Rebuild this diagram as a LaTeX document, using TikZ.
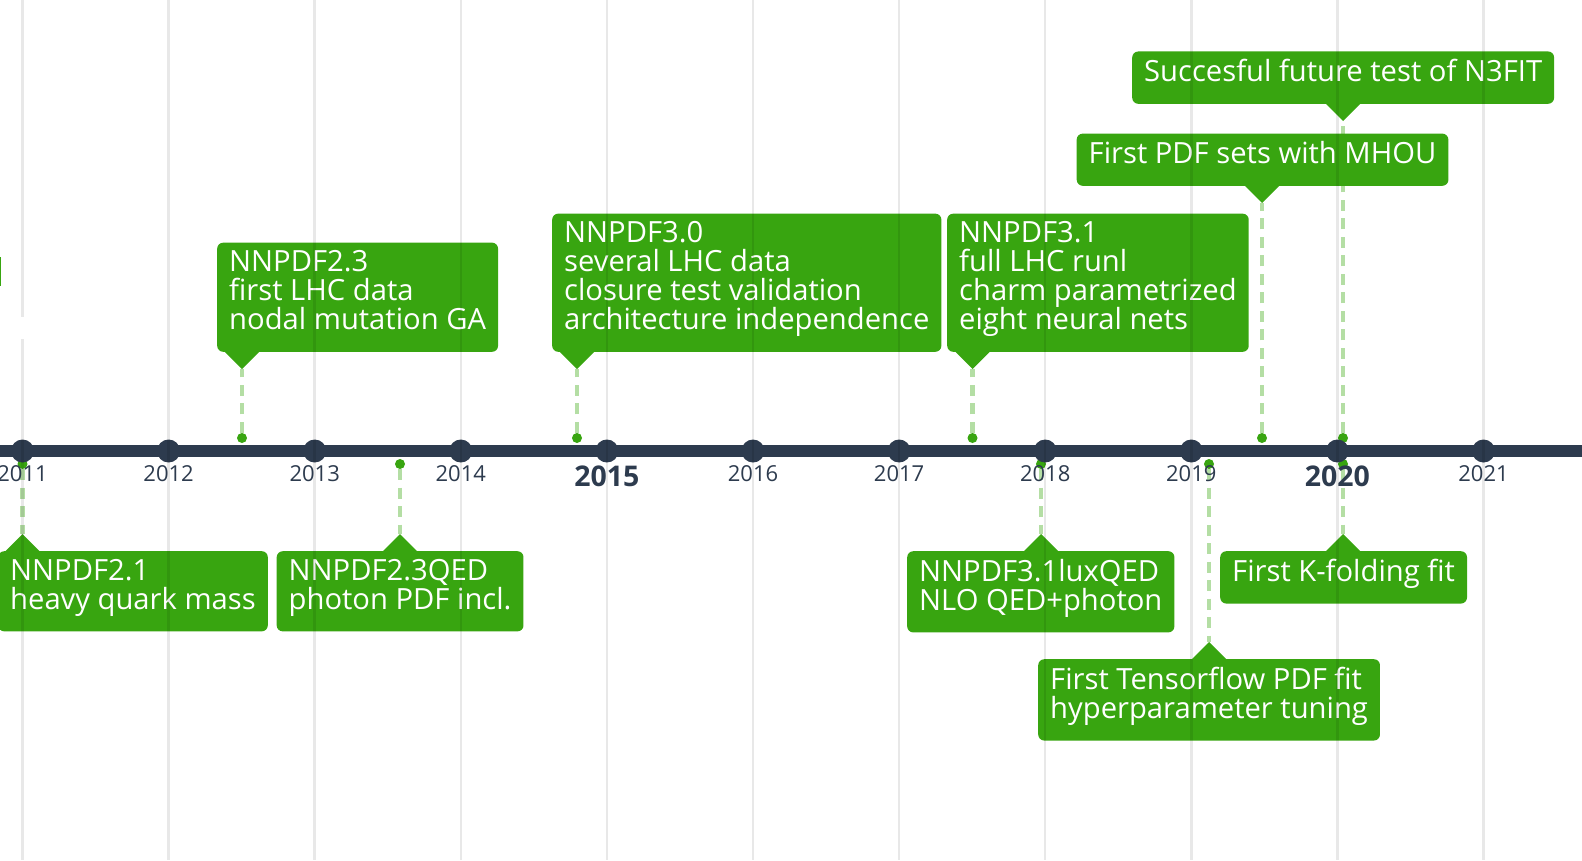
\documentclass[tikz,border=0pt]{standalone}
\usepackage{fontspec}
\setmainfont{Open Sans}
\usetikzlibrary{positioning,calc}
\definecolor{tlgreen}{HTML}{38A510}
\definecolor{tlpale}{HTML}{B4DEA4}
\definecolor{tlaxis}{HTML}{2D3B4E}
\newcommand\topstrut{\lineskiplimit -10pt\relax\rule[-7pt]{0pt}{29pt}}
\newcommand\botstrut{\rule[-14pt]{0pt}{14pt}}
\tikzset{
  callout/.style={fill=tlgreen, text=white, rounded corners=6pt, align=left, inner xsep=12pt, inner ysep=8pt,
    font=\fontsize{29.2}{29}\selectfont, execute at begin node=\topstrut, execute at end node=\botstrut},
  pointer/.style={fill=tlgreen},
  evdot/.style={circle, fill=tlgreen, inner sep=0pt, minimum size=10pt},
  yeardot/.style={circle, fill=tlaxis, inner sep=0pt, minimum size=23pt},
  yearlbl/.style={text=tlaxis, font=\fontsize{22}{24}\selectfont, anchor=base},
  yearbig/.style={text=tlaxis, font=\bfseries\fontsize{28.5}{30}\selectfont, anchor=base},
  leader/.style={draw=tlpale, line width=4.5pt, dash pattern=on 11pt off 7.5pt},
  gridln/.style={draw=black, draw opacity=0.09, line width=2.5pt}
}

\begin{document}
\begin{tikzpicture}[x=1pt, y=-1pt]
  \useasboundingbox (0,0) rectangle (1582,860);

  % event markers and leaders
  \coordinate (n21-tip) at (22.5,534);       \node[evdot] (n21-dot) at (22.5,464) {};
  \coordinate (n23-tip) at (242,369);        \node[evdot] (n23-dot) at (242,438) {};
  \coordinate (n23qed-tip) at (400,534);     \node[evdot] (n23qed-dot) at (400,464) {};
  \coordinate (n30-tip) at (577,369);        \node[evdot] (n30-dot) at (577,438) {};
  \coordinate (n31-tip) at (972.5,369);      \node[evdot] (n31-dot) at (972.5,438) {};
  \coordinate (n31lux-tip) at (1041,534);    \node[evdot] (n31lux-dot) at (1041,464) {};
  \coordinate (tflow-tip) at (1209,642);     \node[evdot] (tflow-dot) at (1209,464) {};
  \coordinate (mhou-tip) at (1262,203);      \node[evdot] (mhou-dot) at (1262,438) {};
  \coordinate (future-tip) at (1343,121);    \node[evdot] (future-dot) at (1343,438) {};
  \coordinate (kfold-tip) at (1343,534);     \node[evdot] (kfold-dot) at (1343,464) {};

  \foreach \ev in {n21,n23,n23qed,n30,n31,n31lux,tflow,mhou,future,kfold}
    \draw[leader] (\ev-dot) -- (\ev-tip);

  % callouts above the axis
  \node[callout, anchor=south west] (n23) at (217,352) {NNPDF2.3\\first LHC data\\nodal mutation GA};
  \node[callout, anchor=south west] (n30) at (552,352) {NNPDF3.0\\several LHC data\\closure test validation\\architecture independence};
  \node[callout, anchor=south west] (n31) at (947,352) {NNPDF3.1\\full LHC runl\\charm parametrized\\eight neural nets};
  \node[callout, anchor=south west] (mhou) at (1076.5,186) {First PDF sets with MHOU};
  \node[callout, anchor=south west] (future) at (1132,104) {Succesful future test of N3FIT};

  % callouts below the axis
  \node[callout, anchor=north west] (n21) at (-2,551) {NNPDF2.1\\heavy quark mass};
  \node[callout, anchor=north west] (n23qed) at (276.5,551) {NNPDF2.3QED\\photon PDF incl.};
  \node[callout, anchor=north west] (n31lux) at (907,551) {NNPDF3.1luxQED\\NLO QED+photon};
  \node[callout, anchor=north west] (kfold) at (1220,551) {First K-folding fit};
  \node[callout, anchor=north west] (tflow) at (1038,659) {First Tensorflow PDF fit\\hyperparameter tuning};

  \foreach \ev in {n23,n30,n31,mhou,future}
    \fill[pointer] (\ev-tip) -- ($(\ev-tip |- \ev.south)+(-18,-1)$) -- ($(\ev-tip |- \ev.south)+(18,-1)$) -- cycle;
  \foreach \ev in {n21,n23qed,n31lux,kfold,tflow}
    \fill[pointer] (\ev-tip) -- ($(\ev-tip |- \ev.north)+(-18,1)$) -- ($(\ev-tip |- \ev.north)+(18,1)$) -- cycle;

  % sliver of a callout cut by the left edge
  \fill[tlgreen] (-10,257) rectangle (1,286);

  % axis with years
  \draw[line width=12pt, tlaxis] (0,451) -- (1582,451);
  \foreach \i/\yr in {0/2011,1/2012,2/2013,3/2014,4/2015,5/2016,6/2017,7/2018,8/2019,9/2020,10/2021}
    \node[yeardot] (y\yr) at ({22.5+146.1*\i},451) {};
  \foreach \yr in {2011,2012,2013,2014,2016,2017,2018,2019,2021}
    \node[yearlbl] (l\yr) at ($(y\yr)+(0,30)$) {\yr};
  \node[yearbig] (l2015) at ($(y2015)+(0,35)$) {2015};
  \node[yearbig] (l2020) at ($(y2020)+(0,35)$) {2020};

  % grid
  \foreach \i in {0,...,10}
    \draw[gridln] ({22.5+146.1*\i},0) -- ({22.5+146.1*\i},860);
  \fill[white] (0,317) rectangle (24,339);
\end{tikzpicture}
\end{document}
